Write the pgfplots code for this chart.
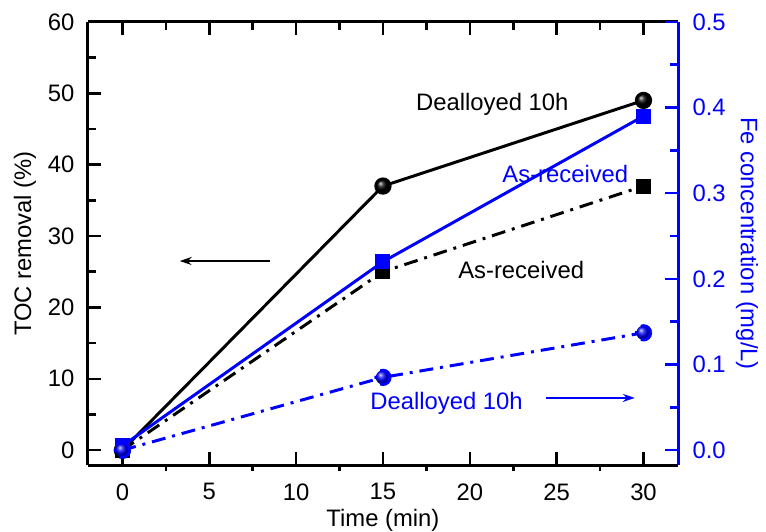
\documentclass[border=0pt]{standalone}
\usepackage{fontspec}
\setmainfont{Liberation Sans}
\usepackage{pgfplots}
\pgfplotsset{compat=1.18}
\usetikzlibrary{arrows.meta}
\definecolor{fblue}{RGB}{0,0,255}
\begin{document}
\fontsize{12}{14}\selectfont
\begin{tikzpicture}
\pgfplotsset{
  every axis/.append style={
    scale only axis, width=296.5bp, height=222.5bp,
    xmin=-2, xmax=32,
    font=\fontsize{12}{14}\selectfont,
    tick label style={font=\fontsize{12}{14}\selectfont},
    label style={font=\fontsize{12}{14}\selectfont},
    /pgf/number format/assume math mode=true,
    major tick length=6.5bp, minor tick length=4bp,
    tick align=inside,
  },
}
% bottom outward minor x ticks
\begin{axis}[
  ymin=0, ymax=1, hide y axis, axis x line*=bottom,
  axis line style={draw=none},
  xtick={2.5,7.5,...,27.5}, xticklabels={},
  tick align=outside, major tick length=3.2bp,
  every tick/.style={line width=1.3pt, black},
]
\end{axis}
% top inward minor x ticks
\begin{axis}[
  ymin=0, ymax=1, hide y axis, axis x line*=top,
  axis line style={draw=none},
  xtick={2.5,7.5,...,27.5}, xticklabels={},
  tick align=inside, major tick length=4bp,
  every tick/.style={line width=1.3pt, black},
]
\end{axis}
\begin{axis}[
  name=ax,
  ymin=-2.09, ymax=60,
  axis y line*=left,
  xtick={0,5,...,30},
  ytick={0,10,...,60}, minor y tick num=1,
  xlabel={Time (min)}, ylabel={TOC removal (\%)},
  axis line style={line width=1.6pt, black},
  every tick/.style={line width=1.3pt, black},
  xticklabel style={anchor=north, inner sep=0pt, yshift=-9bp},
  yticklabel style={xshift=-2.5bp},
  every axis x label/.style={at={(axis description cs:0.5,-0.0989)}, anchor=north, inner sep=0pt},
  every axis y label/.style={at={(axis description cs:-0.106,0.5)}, rotate=90, anchor=center},
]
\addplot[black, line width=1.5pt, mark=ball, mark size=3.6pt, mark options={ball color=black}]
  coordinates {(0,0) (15,37) (30,49)};
\addplot[black, line width=1.5pt, dash pattern=on 7pt off 3.5pt on 1.5pt off 3.5pt, mark=square*, mark size=3pt, mark options={solid}]
  coordinates {(0,0) (15,25) (30,37)};
\node[black, anchor=center] at (axis cs:21.3,48.4) {Dealloyed 10h};
\node[black, anchor=center] at (axis cs:22.96,25.2) {As-received};
\draw[black, line width=1pt, -{Stealth[length=6pt,width=4pt]}] (axis cs:8.5,26.5) -- (axis cs:3.3,26.5);
\end{axis}
\begin{axis}[
  ymin=-0.0174, ymax=0.5,
  axis y line*=right, axis x line=none,
  ytick={0,0.1,...,0.5}, minor y tick num=1,
  yticklabel style={fblue, xshift=3bp, /pgf/number format/fixed, /pgf/number format/fixed zerofill, /pgf/number format/precision=1},
  ylabel={Fe concentration (mg/L)},
  every axis y label/.style={at={(axis description cs:1.1164,0.5)}, rotate=-90, anchor=center, fblue},
  axis line style={line width=1.6pt, fblue},
  every tick/.style={line width=1.3pt, fblue},
]
\addplot[fblue, line width=1.5pt, mark=square*, mark size=3pt]
  coordinates {(0,0.005) (15,0.22) (30,0.39)};
\addplot[fblue, line width=1.5pt, dash pattern=on 7pt off 3.5pt on 1.5pt off 3.5pt, mark=ball, mark size=3.6pt, mark options={ball color=fblue}]
  coordinates {(0,0.0) (15,0.085) (30,0.137)};
\node[fblue, anchor=center] at (axis cs:25.5,0.323) {As-received};
\node[fblue, anchor=center] at (axis cs:18.66,0.055) {Dealloyed 10h};
\draw[fblue, line width=1pt, -{Stealth[length=6pt,width=4pt]}] (axis cs:24.4,0.061) -- (axis cs:29.5,0.061);
\end{axis}
\path[use as bounding box] ([xshift=-44bp,yshift=-33bp]ax.south west) rectangle ([xshift=42.5bp,yshift=11bp]ax.north east);
\end{tikzpicture}
\end{document}
